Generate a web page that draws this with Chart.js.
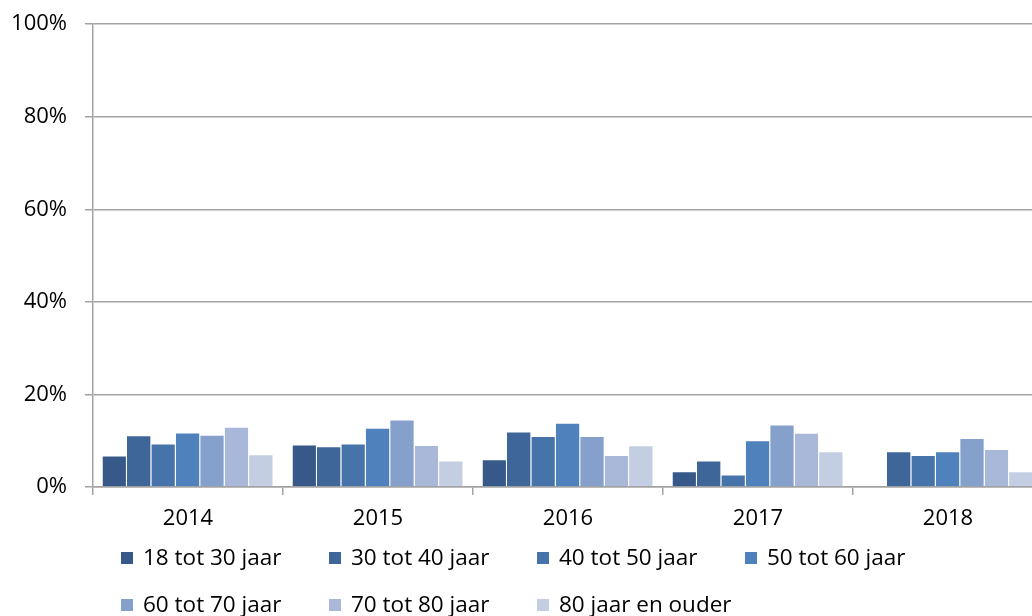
<!DOCTYPE html>
<html>
<head>
<meta charset="utf-8">
<script src="https://cdn.jsdelivr.net/npm/chart.js@4.4.1/dist/chart.umd.min.js"></script>
<style>
  html, body { margin: 0; padding: 0; background: #fff; overflow: hidden; width: 1032px; height: 616px; }
  #wrap { position: absolute; left: 0; top: -7px; width: 1043px; height: 552px; }
  #legend { position: absolute; left: 121px; top: 534px; width: 840px; display: flex; flex-wrap: wrap; }
  .item { width: 208px; height: 47px; display: flex; align-items: center; white-space: nowrap; }
  .box { width: 12px; height: 12px; flex: none; margin-right: 10px; }
  .txt { font-family: "Open Sans", sans-serif; font-size: 22.5px; color: #000; display: inline-block; line-height: 1; }
</style>
</head>
<body>
<div id="wrap"><canvas id="c" width="1043" height="552"></canvas></div>
<div id="legend"></div>
<script>
const years = ['2014', '2015', '2016', '2017', '2018'];
const seriesLabels = ['18 tot 30 jaar', '30 tot 40 jaar', '40 tot 50 jaar', '50 tot 60 jaar', '60 tot 70 jaar', '70 tot 80 jaar', '80 jaar en ouder'];
const s18_30 = [6.8, 9.2, 6.0, 3.4, null];
const s30_40 = [11.2, 8.8, 12.0, 5.7, 7.7];
const s40_50 = [9.4, 9.4, 11.0, 2.7, 6.9];
const s50_60 = [11.8, 12.8, 13.9, 10.1, 7.7];
const s60_70 = [11.3, 14.6, 11.0, 13.5, 10.6];
const s70_80 = [13.0, 9.1, 6.9, 11.7, 8.2];
const s80plus = [7.1, 5.7, 9.0, 7.7, 3.4];
const yTicks = [0, 20, 40, 60, 80, 100];

const seriesValues = [s18_30, s30_40, s40_50, s50_60, s60_70, s70_80, s80plus];
const colors = ['#37598a', '#3e6699', '#4673aa', '#4f81bd', '#85a0cb', '#a9b8d8', '#c4cee2'];
const gridColor = '#a3a3a3';

const datasets = seriesValues.map((vals, i) => ({
  label: seriesLabels[i],
  data: vals,
  backgroundColor: colors[i],
  borderColor: 'rgba(255,255,255,0.4)',
  borderWidth: { top: 1, right: 1, left: 0, bottom: 0 },
  borderSkipped: 'start',
  categoryPercentage: 0.9,
  barPercentage: 1.0
}));

new Chart(document.getElementById('c'), {
  type: 'bar',
  data: { labels: years, datasets },
  options: {
    responsive: false,
    animation: false,
    layout: { padding: { top: 17, left: 0, right: 0, bottom: 0 } },
    plugins: { legend: { display: false }, tooltip: { enabled: false } },
    scales: {
      x: {
        offset: true,
        grid: { offset: true, drawOnChartArea: false, drawTicks: true, tickLength: 8, color: gridColor, lineWidth: 1.5 },
        border: { display: true, color: gridColor, width: 1.5 },
        ticks: { color: '#000', font: { family: 'Open Sans', size: 22 }, padding: 11, maxRotation: 0 },
        afterFit: (s) => { s.height = 58; }
      },
      y: {
        min: 0, max: 100,
        afterBuildTicks: (s) => { s.ticks = yTicks.map(v => ({ value: v })); },
        grid: { color: gridColor, lineWidth: 1.5, tickLength: 8, drawTicks: true },
        border: { display: true, color: gridColor, width: 1.5 },
        ticks: { color: '#000', font: { family: 'Open Sans', size: 22 }, padding: 18, callback: (v) => v + '%' },
        afterFit: (s) => { s.width = 93; }
      }
    }
  }
});

const legend = document.getElementById('legend');
seriesLabels.forEach((lab, i) => {
  const it = document.createElement('div');
  it.className = 'item';
  const b = document.createElement('span');
  b.className = 'box';
  b.style.background = colors[i];
  const t = document.createElement('span');
  t.className = 'txt';
  t.textContent = lab;
  it.appendChild(b);
  it.appendChild(t);
  legend.appendChild(it);
});
</script>
</body>
</html>
